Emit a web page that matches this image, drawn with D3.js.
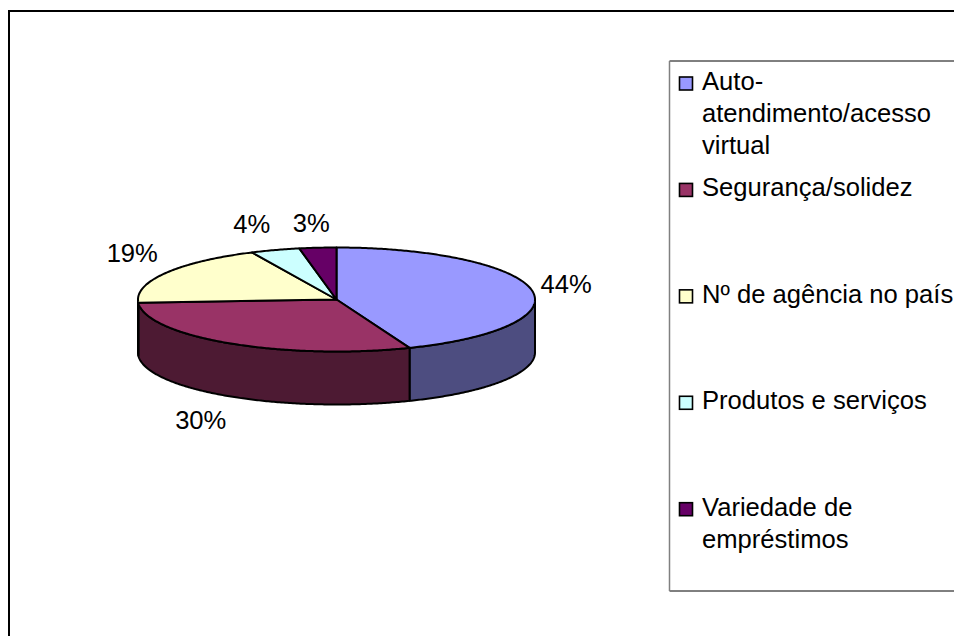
<!DOCTYPE html>
<html lang="pt">
<head>
<meta charset="utf-8">
<title>Pizza 3D</title>
<script src="https://cdn.jsdelivr.net/npm/d3@7"></script>
<style>
    html, body { margin: 0; padding: 0; background: #fff; overflow: hidden; }
    svg { display: block; }
    text { font-family: "Liberation Sans", Arial, sans-serif; fill: #000; }
</style>
</head>
<body>
<div id="chart"></div>
<script>
// --- DATA ---
const categories = [
    ["Auto-", "atendimento/acesso", "virtual"],
    ["Segurança/solidez"],
    ["Nº de agência no país"],
    ["Produtos e serviços"],
    ["Variedade de", "empréstimos"]
];
const values = [44, 30, 19, 4, 3];
const topColors = ["#9999ff", "#993366", "#ffffcc", "#ccffff", "#660066"];
const sideColors = ["#4d4d80", "#4d1a33", "#808066", "#668080", "#330033"];
// label nudge from the slice's rim point, in px
const labelOffsets = [[9, 3], [-55, 86], [-59, -11], [-42, -17], [-25, -16]];

const width = 954, height = 636;
const cx = 336.5, cy = 299.5, rx = 198.5, ry = 52, depth = 53;
const fontSize = 25.6;

const svg = d3.select("#chart").append("svg")
    .attr("width", width).attr("height", height);

// chart frame: only top and left show, the rest is cropped
svg.append("path")
    .attr("d", `M9,${height}V11H${width}`)
    .attr("fill", "none").attr("stroke", "#000").attr("stroke-width", 2);

// --- PIE ---
const x = d3.scaleLinear().domain([-1, 1]).range([cx - rx, cx + rx]);
const y = d3.scaleLinear().domain([-1, 1]).range([cy - ry, cy + ry]);

const slices = d3.pie().sort(null)(values);

// points along the rim, angle 0 at 12 o'clock going clockwise
function rim(a0, a1, drop = 0) {
    const n = Math.max(2, Math.ceil((a1 - a0) / 0.01));
    return d3.range(n + 1).map(i => {
        const a = a0 + (a1 - a0) * i / n;
        return [x(Math.sin(a)), y(-Math.cos(a)) + drop];
    });
}
const line = d3.line().curve(d3.curveLinear);
const pieG = svg.append("g")
    .attr("stroke", "#000").attr("stroke-width", 2).attr("stroke-linejoin", "round");

// front wall: only the part of each slice between 3 and 9 o'clock
slices.forEach((s, i) => {
    const a0 = Math.max(s.startAngle, Math.PI / 2);
    const a1 = Math.min(s.endAngle, Math.PI * 1.5);
    if (a1 <= a0) return;
    pieG.append("path")
        .attr("d", line([...rim(a0, a1), ...rim(a0, a1, depth).reverse()]) + "Z")
        .attr("fill", sideColors[i]);
});

// top face
slices.forEach((s, i) => {
    pieG.append("path")
        .attr("d", line([[x(0), y(0)], ...rim(s.startAngle, s.endAngle)]) + "Z")
        .attr("fill", topColors[i]);
});

// percentage labels
const total = d3.sum(values);
slices.forEach((s, i) => {
    const mid = (s.startAngle + s.endAngle) / 2;
    svg.append("text")
        .attr("x", x(Math.sin(mid)) + labelOffsets[i][0])
        .attr("y", y(-Math.cos(mid)) + labelOffsets[i][1])
        .attr("font-size", fontSize)
        .text(d3.format(".0%")(s.value / total));
});

// --- LEGEND ---
const legendRow = d3.scalePoint().domain(d3.range(categories.length)).range([90, 515.7]);
const legendG = svg.append("g");

legendG.append("path")
    .attr("d", `M${width},591H669.5V61H${width}`)
    .attr("fill", "#fff").attr("stroke", "#000").attr("stroke-width", 1);
legendG.append("line")
    .attr("x1", 669.5).attr("x2", 669.5).attr("y1", 61).attr("y2", 591)
    .attr("stroke", "#808080").attr("stroke-width", 1.5);

categories.forEach((lines, i) => {
    const base = legendRow(i);
    legendG.append("rect")
        .attr("x", 679.5).attr("y", base - 13).attr("width", 13).attr("height", 13)
        .attr("fill", topColors[i]).attr("stroke", "#000").attr("stroke-width", 1.6);
    lines.forEach((t, j) => {
        legendG.append("text")
            .attr("x", 702).attr("y", base + j * 32)
            .attr("font-size", fontSize)
            .text(t);
    });
});
</script>
</body>
</html>
